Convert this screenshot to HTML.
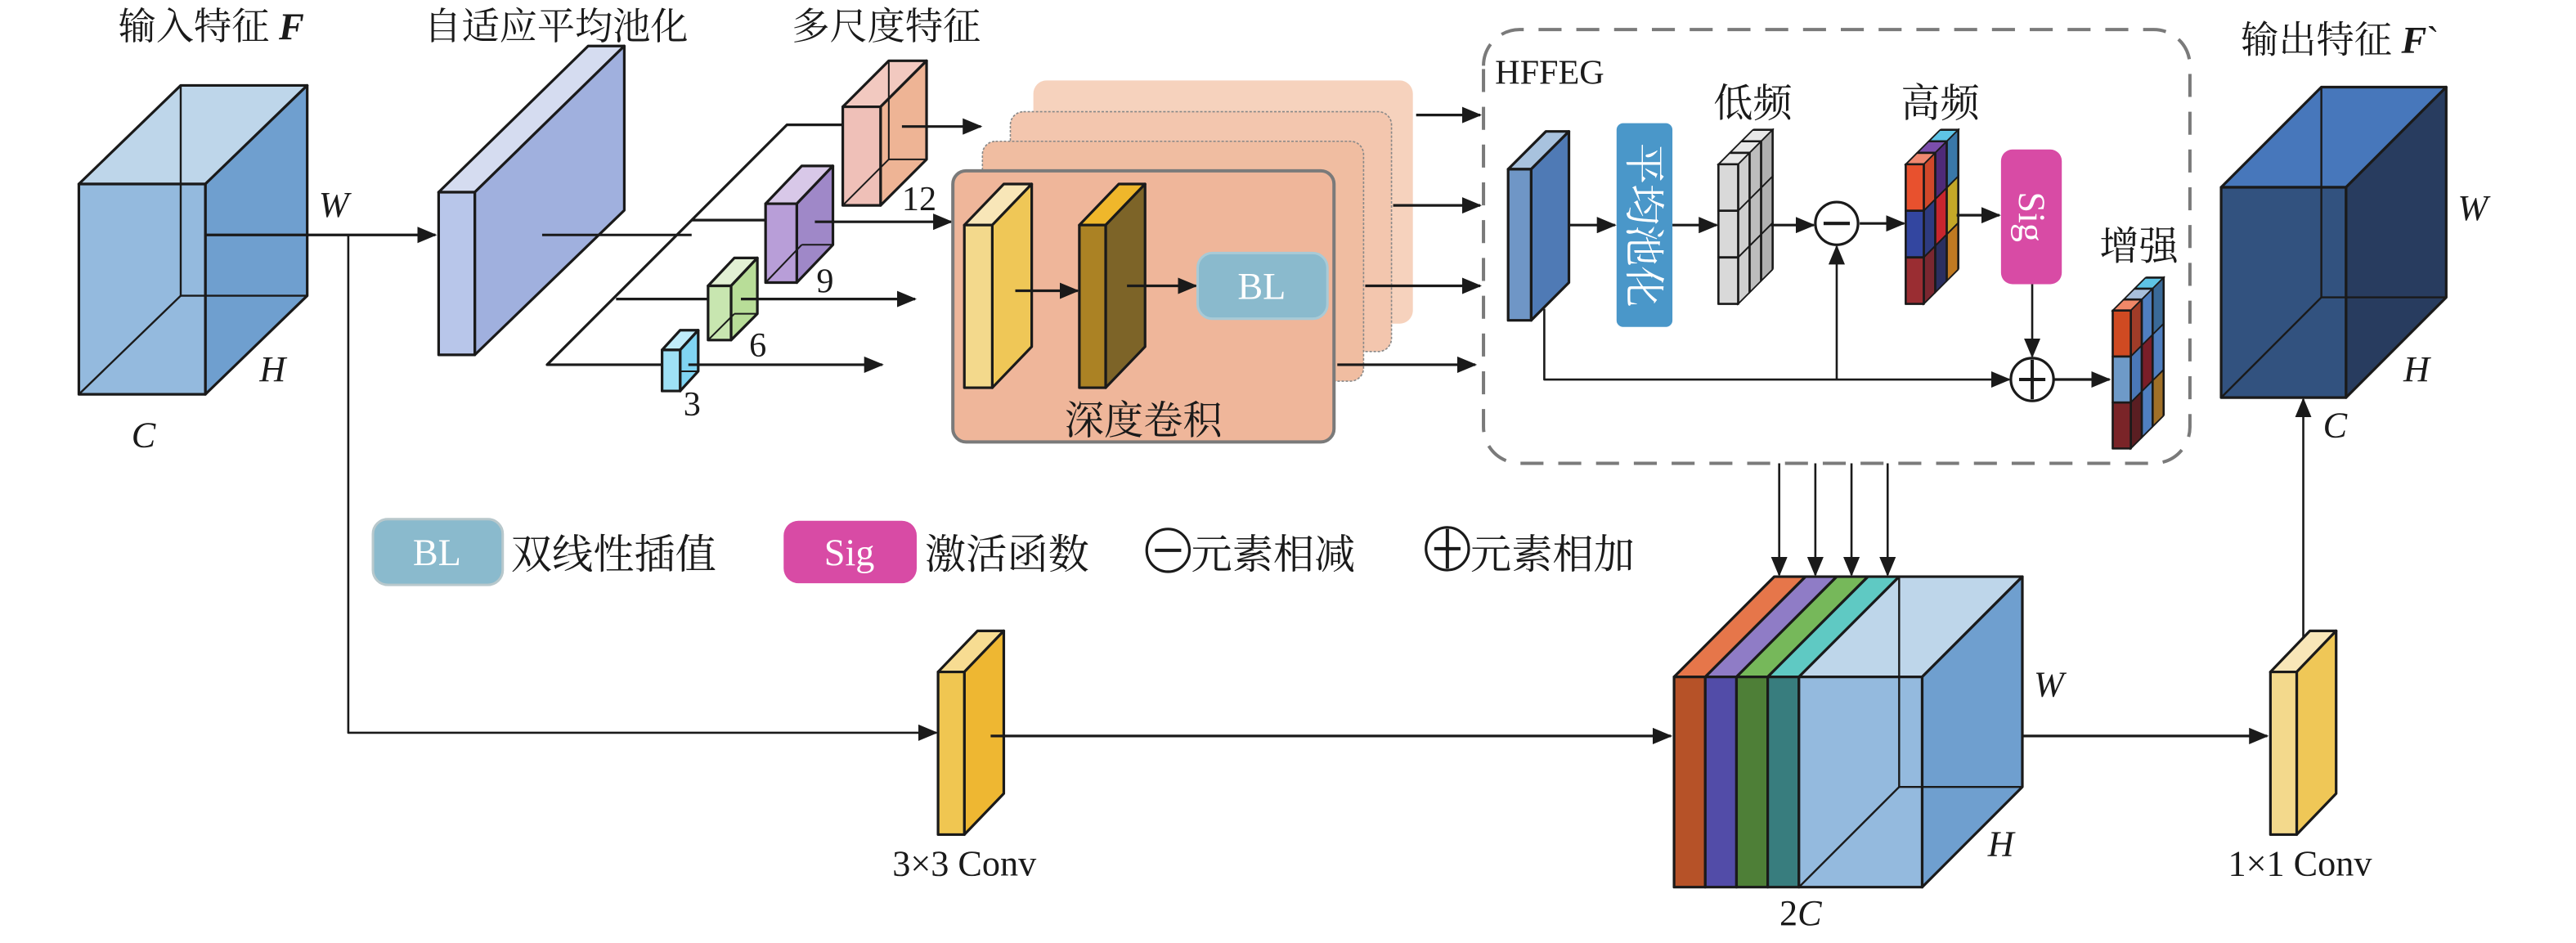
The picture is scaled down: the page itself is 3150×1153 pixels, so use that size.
<!DOCTYPE html>
<html><head><meta charset="utf-8">
<style>
html,body{margin:0;padding:0;background:#fff;}
svg{display:block;}
text{font-family:"Liberation Serif","Noto Serif CJK SC",serif;fill:#1a1a1a;}
.it{font-style:italic;}
</style></head>
<body>
<svg width="3150" height="1153" viewBox="0 0 1568 574" preserveAspectRatio="none" xmlns="http://www.w3.org/2000/svg">
<defs>
<marker id="a" markerWidth="12" markerHeight="10" refX="11" refY="5" orient="auto" markerUnits="userSpaceOnUse"><path d="M0,0 L12,5 L0,10 z" fill="#1a1a1a"/></marker>
</defs>
<g stroke="#1a1a1a" stroke-width="1.6" stroke-linejoin="round">

<!-- titles -->
<g stroke="none" font-size="23">
<text x="72" y="24">输入特征 <tspan class="it" font-weight="bold">F</tspan></text>
<text x="258" y="24">自适应平均池化</text>
<text x="482" y="24">多尺度特征</text>
<text x="1364" y="32">输出特征 <tspan class="it" font-weight="bold">F</tspan>`</text>
</g>

<!-- input cube -->
<polygon points="48,112 125,112 187,52 110,52" fill="#bed6ea"/>
<polygon points="125,112 187,52 187,180 125,240" fill="#6f9fcf"/>
<rect x="48" y="112" width="77" height="128" fill="#94bade"/>
<polyline points="110,52 110,180 187,180" fill="none" stroke-width="1.2"/>
<line x1="110" y1="180" x2="48" y2="240" stroke-width="1.2"/>
<g stroke="none" font-size="22" class="it">
<text x="194" y="132" class="it">W</text>
<text x="158" y="232" class="it">H</text>
<text x="80" y="272" class="it">C</text>
</g>

<!-- connectors from input -->
<line x1="125" y1="143" x2="265" y2="143" marker-end="url(#a)"/>
<polyline points="212,143 212,446 570,446" fill="none" stroke-width="1.3" marker-end="url(#a)"/>

<!-- adaptive pool slab -->
<polygon points="267,117 289,117 380,28 358,28" fill="#d5dcf0"/>
<polygon points="289,117 380,28 380,128 289,216" fill="#a0b0de"/>
<rect x="267" y="117" width="22" height="99" fill="#b8c6ea"/>
<line x1="330" y1="143" x2="421" y2="143" stroke-width="1.5"/>

<!-- branching lines -->
<polyline points="403,222 333,222 479,76 513,76" fill="none"/>
<line x1="421" y1="134" x2="466" y2="134"/>
<line x1="375" y1="182" x2="431" y2="182"/>

<!-- pink box -->
<polygon points="513,65 536,65 564,37 541,37" fill="#f2c9c0"/>
<polygon points="536,65 564,37 564,97 536,125" fill="#eeb495"/>
<rect x="513" y="65" width="23" height="60" fill="#efc0b8"/>
<polyline points="541,37 541,97 564,97" fill="none" stroke-width="1"/><line x1="541" y1="97" x2="513" y2="125" stroke-width="1"/>
<line x1="549" y1="77" x2="597" y2="77" marker-end="url(#a)"/>
<!-- purple -->
<polygon points="466,124 485,124 507,101 488,101" fill="#d8c8e8"/>
<polygon points="485,124 507,101 507,149 485,172" fill="#9f88c8"/>
<rect x="466" y="124" width="19" height="48" fill="#b89ed8"/>
<line x1="488" y1="149" x2="507" y2="149" stroke-width="1"/><line x1="488" y1="149" x2="466" y2="172" stroke-width="1"/>
<line x1="496" y1="135" x2="579" y2="135" marker-end="url(#a)"/>
<!-- green -->
<polygon points="431,174 445,174 461,157 447,157" fill="#e2f0d4"/>
<polygon points="445,174 461,157 461,191 445,207" fill="#b8dd98"/>
<rect x="431" y="174" width="14" height="33" fill="#c8e6b0"/>
<line x1="447" y1="191" x2="461" y2="191" stroke-width="1"/><line x1="447" y1="191" x2="431" y2="207" stroke-width="1"/>
<line x1="451" y1="182" x2="557" y2="182" marker-end="url(#a)"/>
<!-- blue small -->
<polygon points="403,213 414,213 425,201 414,201" fill="#c0ecfa"/>
<polygon points="414,213 425,201 425,226 414,238" fill="#80d4f2"/>
<rect x="403" y="213" width="11" height="25" fill="#9ee0f5"/>
<line x1="414" y1="226" x2="425" y2="226" stroke-width="1"/>
<line x1="419" y1="222" x2="537" y2="222" marker-end="url(#a)"/>
<g stroke="none" font-size="21">
<text x="549" y="128">12</text><text x="497" y="178">9</text><text x="456" y="217">6</text><text x="416" y="253">3</text>
</g>

<!-- stacked cards -->
<rect x="629" y="49" width="231" height="148" rx="8" fill="#f5cdb6" stroke="none" opacity="0.9"/>
<rect x="615" y="68" width="232" height="146" rx="8" fill="#f3c6ae" stroke="#888" stroke-width="0.8" stroke-dasharray="1.5 1"/>
<rect x="598" y="86" width="232" height="146" rx="8" fill="#f0bda1" stroke="#888" stroke-width="0.8" stroke-dasharray="1.5 1"/>
<rect x="580" y="104" width="232" height="165" rx="8" fill="#efb69a" stroke="#7a7a7a" stroke-width="2"/>
<!-- yellow slabs -->
<polygon points="587,137 604,137 628,112 611,112" fill="#f8e6b8"/>
<polygon points="604,137 628,112 628,211 604,236" fill="#efc757"/>
<rect x="587" y="137" width="17" height="99" fill="#f3d98c"/>
<polygon points="657,137 673,137 697,112 681,112" fill="#efb72b"/>
<polygon points="673,137 697,112 697,211 673,236" fill="#7d6428"/>
<rect x="657" y="137" width="16" height="99" fill="#ab8224"/>
<line x1="618" y1="177" x2="656" y2="177" marker-end="url(#a)"/>
<line x1="686" y1="174" x2="728" y2="174" marker-end="url(#a)"/>
<rect x="729" y="154" width="79" height="40" rx="9" fill="#8abacd" stroke="#a9cad6" stroke-width="1.5"/>
<text x="768" y="182" font-size="23" fill="#fff" stroke="none" text-anchor="middle" style="fill:#fff">BL</text>
<text x="696" y="264" font-size="24" stroke="none" text-anchor="middle">深度卷积</text>

<!-- arrows to HFFEG -->
<line x1="862" y1="70" x2="901" y2="70" marker-end="url(#a)"/>
<line x1="848" y1="125" x2="901" y2="125" marker-end="url(#a)"/>
<line x1="831" y1="174" x2="901" y2="174" marker-end="url(#a)"/>
<line x1="814" y1="222" x2="898" y2="222" marker-end="url(#a)"/>

<!-- dashed box -->
<path d="M903,40 A22,22 0 0 1 925,18 L1311,18 A22,22 0 0 1 1333,40 L1333,260 A22,22 0 0 1 1311,282 L925,282 A22,22 0 0 1 903,260 Z" fill="none" stroke="#7a7a7a" stroke-width="2" stroke-dasharray="14 9"/>
<text x="910" y="51" font-size="21" stroke="none">HFFEG</text>

<!-- HFFEG slab -->
<polygon points="918,103 932,103 955,80 941,80" fill="#a8c2de"/>
<polygon points="932,103 955,80 955,172 932,195" fill="#4f7ab5"/>
<rect x="918" y="103" width="14" height="92" fill="#6f96c6"/>
<line x1="955" y1="137" x2="983" y2="137" marker-end="url(#a)"/>
<rect x="984" y="75" width="34" height="124" rx="4" fill="#4a97c9" stroke="none"/>
<text transform="translate(1001,137) rotate(90)" x="0" y="9" font-size="25" text-anchor="middle" stroke="none" style="fill:#fff">平均池化</text>
<line x1="1018" y1="137" x2="1045" y2="137" marker-end="url(#a)"/>

<!-- low freq block -->
<g stroke-width="1.3">
<g transform="matrix(1,0,1,-1,1046,100)"><rect x="0" y="0" width="12" height="7" fill="#e8e8e8"/><rect x="0" y="7" width="12" height="7" fill="#e8e8e8"/><rect x="0" y="14" width="12" height="7" fill="#e8e8e8"/></g>
<g transform="matrix(1,-1,0,1,1058,100)">
<rect x="0" y="0" width="7" height="28.3" fill="#cfcfcf"/><rect x="0" y="28.3" width="7" height="28.3" fill="#cfcfcf"/><rect x="0" y="56.7" width="7" height="28.3" fill="#cfcfcf"/>
<rect x="7" y="0" width="7" height="28.3" fill="#bdbdbd"/><rect x="7" y="28.3" width="7" height="28.3" fill="#bdbdbd"/><rect x="7" y="56.7" width="7" height="28.3" fill="#bdbdbd"/>
<rect x="14" y="0" width="7" height="28.3" fill="#b0b0b0"/><rect x="14" y="28.3" width="7" height="28.3" fill="#b0b0b0"/><rect x="14" y="56.7" width="7" height="28.3" fill="#b0b0b0"/></g>
<rect x="1046" y="100" width="12" height="28.3" fill="#d9d9d9"/><rect x="1046" y="128.3" width="12" height="28.3" fill="#d9d9d9"/><rect x="1046" y="156.7" width="12" height="28.3" fill="#d9d9d9"/>
</g>
<text x="1067" y="71" font-size="24" stroke="none" text-anchor="middle">低频</text>
<line x1="1078" y1="137" x2="1104" y2="137" marker-end="url(#a)"/>
<circle cx="1118" cy="136" r="13" fill="#fff"/><line x1="1110" y1="136" x2="1126" y2="136" stroke-width="2"/>
<line x1="1132" y1="136" x2="1159" y2="136" marker-end="url(#a)"/>

<!-- high freq block -->
<g stroke-width="1.3">
<g transform="matrix(1,0,1,-1,1160,100)"><rect x="0" y="0" width="11" height="7" fill="#f08870"/><rect x="0" y="7" width="11" height="7" fill="#7b4eab"/><rect x="0" y="14" width="11" height="7" fill="#5ec4e6"/></g>
<g transform="matrix(1,-1,0,1,1171,100)">
<rect x="0" y="0" width="7" height="28.3" fill="#d0482a"/><rect x="0" y="28.3" width="7" height="28.3" fill="#2e3b80"/><rect x="0" y="56.7" width="7" height="28.3" fill="#7a2730"/>
<rect x="7" y="0" width="7" height="28.3" fill="#4e2a78"/><rect x="7" y="28.3" width="7" height="28.3" fill="#c8262e"/><rect x="7" y="56.7" width="7" height="28.3" fill="#2a2f60"/>
<rect x="14" y="0" width="7" height="28.3" fill="#3a78a8"/><rect x="14" y="28.3" width="7" height="28.3" fill="#c4a828"/><rect x="14" y="56.7" width="7" height="28.3" fill="#c07a22"/></g>
<rect x="1160" y="100" width="11" height="28.3" fill="#e8512e"/><rect x="1160" y="128.3" width="11" height="28.3" fill="#3346a0"/><rect x="1160" y="156.7" width="11" height="28.3" fill="#9a2d32"/>
</g>
<text x="1181" y="71" font-size="24" stroke="none" text-anchor="middle">高频</text>
<line x1="1191" y1="131" x2="1217" y2="131" marker-end="url(#a)"/>
<rect x="1218" y="91" width="37" height="82" rx="7" fill="#d84ba5" stroke="none"/>
<text transform="translate(1237,132) rotate(90)" x="0" y="8" font-size="23" text-anchor="middle" stroke="none" style="fill:#fff">Sig</text>
<line x1="1237" y1="173" x2="1237" y2="217" stroke-width="1.3" marker-end="url(#a)"/>
<circle cx="1237" cy="231" r="13" fill="#fff"/><line x1="1229" y1="231" x2="1245" y2="231" stroke-width="2"/><line x1="1237" y1="219" x2="1237" y2="243" stroke-width="2"/>
<polyline points="940,188 940,231 1223,231" fill="none" stroke-width="1.3" marker-end="url(#a)"/>
<line x1="1118" y1="231" x2="1118" y2="150" stroke-width="1.3" marker-end="url(#a)"/>
<line x1="1250" y1="231" x2="1284" y2="231" marker-end="url(#a)"/>
<text x="1302" y="158" font-size="24" stroke="none" text-anchor="middle">增强</text>

<!-- enhanced block -->
<g stroke-width="1.3">
<g transform="matrix(1,0,1,-1,1286,189)"><rect x="0" y="0" width="11" height="6.7" fill="#f08868"/><rect x="0" y="6.7" width="11" height="6.7" fill="#a8c0dc"/><rect x="0" y="13.3" width="11" height="6.7" fill="#5ec4e6"/></g>
<g transform="matrix(1,-1,0,1,1297,189)">
<rect x="0" y="0" width="6.7" height="28" fill="#a03c28"/><rect x="0" y="28" width="6.7" height="28" fill="#4a78b8"/><rect x="0" y="56" width="6.7" height="28" fill="#5a1e22"/>
<rect x="6.7" y="0" width="6.6" height="28" fill="#4f7fc0"/><rect x="6.7" y="28" width="6.6" height="28" fill="#7a1e28"/><rect x="6.7" y="56" width="6.6" height="28" fill="#4f7fc0"/>
<rect x="13.3" y="0" width="6.7" height="28" fill="#3a6a98"/><rect x="13.3" y="28" width="6.7" height="28" fill="#4f7fc0"/><rect x="13.3" y="56" width="6.7" height="28" fill="#a07028"/></g>
<rect x="1286" y="189" width="11" height="28" fill="#cf4a22"/><rect x="1286" y="217" width="11" height="28" fill="#6e9ac8"/><rect x="1286" y="245" width="11" height="28" fill="#7a2428"/>
</g>

<!-- output cube -->
<polygon points="1352,114 1428,114 1489,53 1413,53" fill="#4777bb"/>
<polygon points="1428,114 1489,53 1489,181 1428,242" fill="#283c5f"/>
<rect x="1352" y="114" width="76" height="128" fill="#32527f"/>
<polyline points="1413,53 1413,181 1489,181" fill="none" stroke-width="1.2"/>
<line x1="1413" y1="181" x2="1352" y2="242" stroke-width="1.2"/>
<g stroke="none" font-size="22">
<text x="1496" y="134" class="it">W</text>
<text x="1463" y="232" class="it">H</text>
<text x="1414" y="266" class="it">C</text>
</g>
<line x1="1402" y1="410" x2="1402" y2="243" stroke-width="1.3" marker-end="url(#a)"/>

<!-- legend -->
<rect x="227" y="316" width="79" height="40" rx="9" fill="#8abacd" stroke="#b8c8cc" stroke-width="1.5"/>
<text x="266" y="344" font-size="23" text-anchor="middle" stroke="none" style="fill:#fff">BL</text>
<text x="311" y="346" font-size="25" stroke="none">双线性插值</text>
<rect x="477" y="317" width="81" height="38" rx="9" fill="#d84ba5" stroke="none"/>
<text x="517" y="344" font-size="23" text-anchor="middle" stroke="none" style="fill:#fff">Sig</text>
<text x="563" y="346" font-size="25" stroke="none">激活函数</text>
<circle cx="711" cy="335" r="13" fill="#fff"/><line x1="703" y1="335" x2="719" y2="335" stroke-width="2"/>
<text x="725" y="346" font-size="25" stroke="none">元素相减</text>
<circle cx="881" cy="334" r="13" fill="#fff"/><line x1="873" y1="334" x2="889" y2="334" stroke-width="2"/><line x1="881" y1="322" x2="881" y2="346" stroke-width="2"/>
<text x="895" y="346" font-size="25" stroke="none">元素相加</text>

<!-- 3x3 conv -->
<polygon points="571,409 587,409 611,384 595,384" fill="#f7dc92"/>
<polygon points="587,409 611,384 611,483 587,508" fill="#eeb732"/>
<rect x="571" y="409" width="16" height="99" fill="#f0c651"/>
<text x="587" y="533" font-size="22" text-anchor="middle" stroke="none">3×3 Conv</text>
<line x1="603" y1="448" x2="1017" y2="448" marker-end="url(#a)"/>

<!-- down arrows -->
<line x1="1083" y1="282" x2="1083" y2="350" stroke-width="1.3" marker-end="url(#a)"/>
<line x1="1105" y1="282" x2="1105" y2="350" stroke-width="1.3" marker-end="url(#a)"/>
<line x1="1127" y1="282" x2="1127" y2="350" stroke-width="1.3" marker-end="url(#a)"/>
<line x1="1149" y1="282" x2="1149" y2="350" stroke-width="1.3" marker-end="url(#a)"/>

<!-- concat block -->
<polygon points="1019,412 1038,412 1099,351 1080,351" fill="#e6764a"/>
<polygon points="1038,412 1057,412 1118,351 1099,351" fill="#8f7cc6"/>
<polygon points="1057,412 1076,412 1137,351 1118,351" fill="#76b85a"/>
<polygon points="1076,412 1095,412 1156,351 1137,351" fill="#5fc9c3"/>
<polygon points="1095,412 1170,412 1231,351 1156,351" fill="#bed6ea"/>
<polygon points="1170,412 1231,351 1231,479 1170,540" fill="#6f9fcf"/>
<rect x="1019" y="412" width="19" height="128" fill="#b65228"/>
<rect x="1038" y="412" width="19" height="128" fill="#524ca8"/>
<rect x="1057" y="412" width="19" height="128" fill="#4e7f37"/>
<rect x="1076" y="412" width="19" height="128" fill="#387d7e"/>
<rect x="1095" y="412" width="75" height="128" fill="#94bade"/>
<polyline points="1156,351 1156,479 1231,479" fill="none" stroke-width="1.2"/>
<line x1="1156" y1="479" x2="1095" y2="540" stroke-width="1.2"/>
<g stroke="none" font-size="22">
<text x="1238" y="424" class="it">W</text>
<text x="1210" y="521" class="it">H</text>
<text x="1096" y="563" text-anchor="middle">2<tspan class="it">C</tspan></text>
</g>
<line x1="1231" y1="448" x2="1380" y2="448" marker-end="url(#a)"/>

<!-- 1x1 conv -->
<polygon points="1382,409 1398,409 1422,384 1406,384" fill="#f8e6b8"/>
<polygon points="1398,409 1422,384 1422,483 1398,508" fill="#efc757"/>
<rect x="1382" y="409" width="16" height="99" fill="#f3d98c"/>
<text x="1400" y="533" font-size="22" text-anchor="middle" stroke="none">1×1 Conv</text>
</g>
</svg>
</body></html>
